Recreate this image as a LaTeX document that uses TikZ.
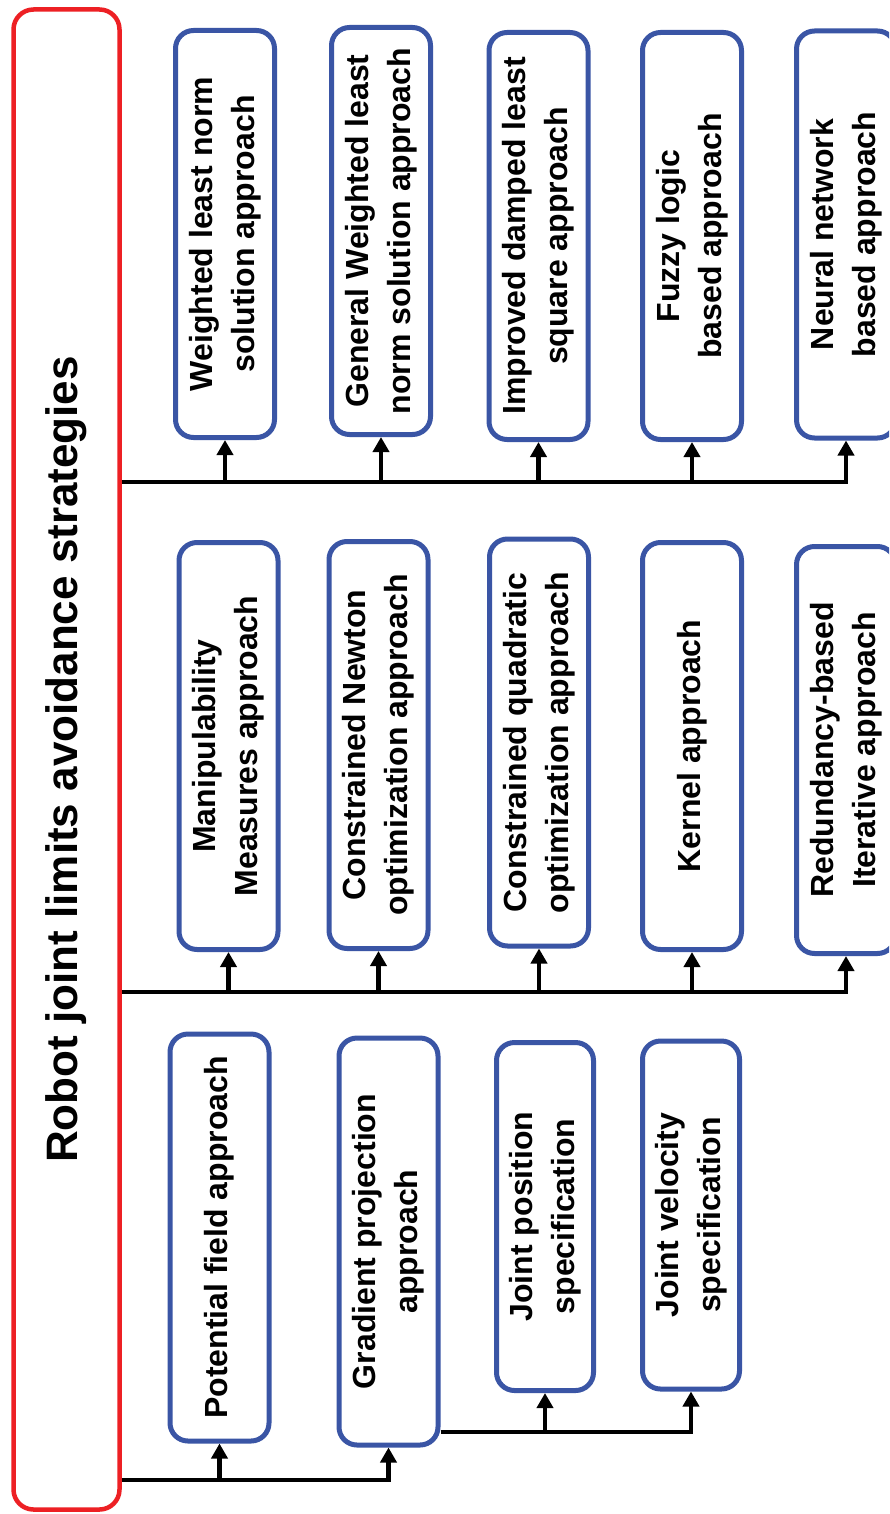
\documentclass[tikz,border=0pt]{standalone}
\usepackage{fontspec}
\setmainfont{Liberation Sans}
\usepackage{tikz}
\usetikzlibrary{arrows.meta}
\definecolor{boxblue}{HTML}{3A55A5}
\definecolor{framered}{HTML}{ED2024}

\begin{document}
\begin{tikzpicture}[x=1pt, y=-1pt,
    strat/.style={draw=boxblue, line width=5pt, rounded corners=18pt, rotate=90,
      minimum width=407pt, minimum height=99pt, inner sep=0pt, align=center,
      font=\fontsize{32}{42}\selectfont\bfseries},
    arr/.style={line width=4.5pt, -{Triangle[length=15pt, width=16pt]}}]
    \clip (0,0) rectangle (889,1514);
    \fill[white] (0,0) rectangle (889,1514);

    \node[draw=framered, line width=4.5pt, rounded corners=20pt, rotate=90,
      minimum width=1500pt, minimum height=106pt, inner sep=0pt,
      font=\fontsize{44}{50}\selectfont\bfseries] (root) at (66.5,759.5)
      {Robot joint limits avoidance strategies};

    % top row
    \node[strat] (t1) at (225,234) {Weighted least norm\\solution approach};
    \node[strat] (t2) at (381,231) {General Weighted least\\norm solution approach};
    \node[strat] (t3) at (538.5,236) {Improved damped least\\square approach};
    \node[strat] (t4) at (692,236) {Fuzzy logic\\based approach};
    \node[strat] (t5) at (846,234.5) {Neural network\\based approach};

    % middle row
    \node[strat] (m1) at (228.5,746) {Manipulability\\Measures approach};
    \node[strat] (m2) at (378.5,745) {Constrained Newton\\optimization approach};
    \node[strat] (m3) at (539,742.5) {Constrained quadratic\\optimization approach};
    \node[strat] (m4) at (692,746) {Kernel approach};
    \node[strat] (m5) at (846,750) {Redundancy-based\\Iterative approach};

    % bottom row
    \node[strat] (b1) at (219.5,1237.5) {Potential field approach};
    \node[strat] (b2) at (388.5,1241.5) {Gradient projection\\approach};
    \node[strat, minimum width=348pt, minimum height=97pt] (b3) at (545,1216.5) {Joint position\\specification};
    \node[strat, minimum width=348pt, minimum height=97pt] (b4) at (691,1215) {Joint velocity\\specification};

    % connectors
    \draw[arr] (root.south |- 0,482) -| (t5.west);
    \foreach \n in {t1,t2,t3,t4}
      \draw[arr] (\n.west |- 0,482) -- (\n.west);
    \draw[arr] (root.south |- 0,992) -| (m5.west);
    \foreach \n in {m1,m2,m3,m4}
      \draw[arr] (\n.west |- 0,992) -- (\n.west);
    \draw[arr] (root.south |- 0,1480) -| (b2.west);
    \draw[arr] (b1.west |- 0,1480) -- (b1.west);
    \draw[arr] (b2.south |- 0,1432) -| (b4.west);
    \draw[arr] (b3.west |- 0,1432) -- (b3.west);
\end{tikzpicture}
\end{document}
